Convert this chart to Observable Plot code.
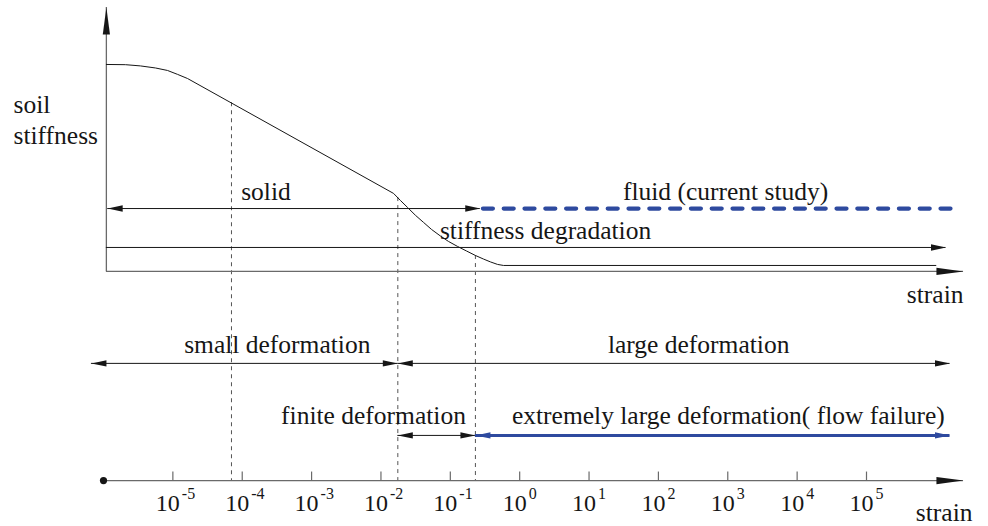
<!DOCTYPE html>
<html>
<head>
<meta charset="utf-8">
<script src="https://cdn.jsdelivr.net/npm/d3@7"></script>
<script src="https://cdn.jsdelivr.net/npm/@observablehq/plot@0.6"></script>
<style>
  html, body { margin: 0; padding: 0; background: #fff; }
  #chart svg { display: block; }
  #chart svg text { font-family: "Liberation Serif", Tinos, "Times New Roman", Times, "DejaVu Serif", serif !important; }
</style>
</head>
<body>
<div id="chart"></div>
<script>
// Stiffness degradation curve: strain vs. normalised soil stiffness
const curveStrain = [
  1.1e-6, 2.07e-6, 3.41e-6, 5.62e-6, 8.37e-6, 1.17e-5, 1.63e-5,
  0.0152, 0.0191, 0.0242, 0.0315, 0.0411, 0.0536, 0.0722, 0.0942, 0.127,
  0.171, 0.231, 0.301, 0.38, 0.48, 0.585, 1e6
];
const curveStiffness = [
  1.0, 0.999, 0.993, 0.983, 0.971, 0.952, 0.932,
  0.377, 0.343, 0.309, 0.271, 0.237, 0.203, 0.171, 0.145, 0.121,
  0.099, 0.077, 0.060, 0.046, 0.034, 0.029, 0.029
];

// Regime boundaries (dashed verticals) and the stiffness where they meet the curve
const boundaryStrain    = [7e-5, 0.0175, 0.23];
const boundaryStiffness = [0.815, 0.357, 0.077];

// Bottom strain axis ticks: 10^-5 ... 10^5
const tickExponents = [-5, -4, -3, -2, -1, 0, 1, 2, 3, 4, 5];
const tickLabels    = ["-5", "-4", "-3", "-2", "-1", "0", "1", "2", "3", "4", "5"];

// Material phase ranges
const phaseNames   = ["solid", "fluid (current study)"];
const phaseFrom    = [1.15e-6, 0.30];
const phaseTo      = [0.27, 2.1e6];
const phaseLabelAt = [2.2e-4, 930];

// Stiffness degradation range
const degradationName    = "stiffness degradation";
const degradationFrom    = 1.1e-6;
const degradationTo      = 1.4e6;
const degradationLabelAt = 2.36;

// Deformation ranges
const deformationNames   = ["small deformation", "large deformation", "finite deformation", "extremely large deformation( flow failure)"];
const deformationFrom    = [6.7e-7, 0.0175, 0.0175, 0.23];
const deformationTo      = [0.0175, 1.6e6, 0.23, 1.6e6];
const deformationLabelAt = [3.2e-4, 380, 7.8e-3, 1020];
const deformationRow     = [0, 0, 1, 1];

// Axis extents (strain)
const bottomOrigin = 1e-6;
const topOrigin = 1.1e-6;
const axisEnd = 2.5e6;

// Vertical layout, in stiffness units
const level = {
  yTip: 1.275, yLabel: 0.618,
  phase: 0.304, phaseText: 0.345,
  degradation: 0.116, degradationText: 0.159,
  strainTop: -0.150,
  rows: [-0.444, -0.792], rowText: [-0.396, -0.739],
  axis: -1.010, tickText: -1.155, expText: -1.097, strainBottom: -1.205
};

const ink = "#161616", axisInk = "#6a6a6a", blue = "#2e4a9f";
const serif = "Liberation Serif, Tinos, Times New Roman, Times, DejaVu Serif, serif";
const font = {fontFamily: serif, fontSize: 25.5, fill: ink, lineAnchor: "bottom"};

// Filled triangular arrowheads with the tip at the anchor point
function head(dir, len, half) {
  return {
    draw(ctx) {
      const p = dir === "right" ? [[0, 0], [-len, -half], [-len, half]]
              : dir === "left"  ? [[0, 0], [len, -half], [len, half]]
              : [[0, 0], [-half, len], [half, len]];
      ctx.moveTo(p[0][0], p[0][1]);
      ctx.lineTo(p[1][0], p[1][1]);
      ctx.lineTo(p[2][0], p[2][1]);
      ctx.closePath();
    }
  };
}
// Small inward tick on the strain axis
const tickSymbol = {draw(ctx) { ctx.moveTo(0, 0); ctx.lineTo(0, -9); }};

const curve = curveStrain.map((s, i) => ({s, k: curveStiffness[i]}));
const bounds = boundaryStrain.map((s, i) => ({s, k: boundaryStiffness[i]}));
const phases = phaseNames.map((name, i) => ({name, from: phaseFrom[i], to: phaseTo[i], at: phaseLabelAt[i]}));
const deform = deformationNames.map((name, i) => ({
  name, from: deformationFrom[i], to: deformationTo[i], at: deformationLabelAt[i],
  y: level.rows[deformationRow[i]], ty: level.rowText[deformationRow[i]]
}));
const blackDeform = deform.filter((d, i) => i < 3);
const blueDeform = deform.filter((d, i) => i === 3);

const smallRight = head("right", 15, 3.2), smallLeft = head("left", 15, 3.2);
const bigRight = head("right", 27, 3.6), bigUp = head("up", 27, 3.6);

const chart = Plot.plot({
  width: 988,
  height: 526,
  margin: 0,
  x: {type: "log", domain: [1e-6, 1e5], range: [103, 866], axis: null},
  y: {domain: [-1.232, 1.309], range: [526, 0], axis: null},
  style: {background: "white"},
  marks: [
    // regime boundaries
    Plot.ruleX(bounds, {x: "s", y1: "k", y2: () => level.axis, stroke: "#555", strokeWidth: 1, strokeDasharray: "4,4"}),

    // stiffness–strain axes
    Plot.ruleX([topOrigin], {x: d => d, y1: () => 0, y2: () => level.yTip, stroke: axisInk, strokeWidth: 1.3}),
    Plot.ruleY([0], {y: d => d, x1: () => topOrigin, x2: () => axisEnd, stroke: axisInk, strokeWidth: 1.3}),
    Plot.dot([topOrigin], {x: d => d, y: () => level.yTip, symbol: bigUp, r: 1, fill: ink}),
    Plot.dot([axisEnd], {x: d => d, y: () => 0, symbol: bigRight, r: 1, fill: ink}),

    // stiffness curve
    Plot.line(curve, {x: "s", y: "k", curve: "linear", stroke: ink, strokeWidth: 1}),

    // solid / fluid
    Plot.ruleY(phases.slice(0, 1), {y: () => level.phase, x1: "from", x2: "to", stroke: ink, strokeWidth: 1}),
    Plot.dot(phases.slice(0, 1), {x: "from", y: () => level.phase, symbol: smallLeft, r: 1, fill: ink}),
    Plot.dot(phases.slice(0, 1), {x: "to", y: () => level.phase, symbol: smallRight, r: 1, fill: ink}),
    Plot.ruleY(phases.slice(1), {y: () => level.phase, x1: "from", x2: "to", stroke: blue, strokeWidth: 4.2, strokeDasharray: "10,10.8", strokeLinecap: "round"}),
    Plot.text(phases, {x: "at", y: () => level.phaseText, text: "name", ...font}),

    // stiffness degradation
    Plot.ruleY([degradationFrom], {y: () => level.degradation, x1: d => d, x2: () => degradationTo, stroke: ink, strokeWidth: 1}),
    Plot.dot([degradationTo], {x: d => d, y: () => level.degradation, symbol: smallRight, r: 1, fill: ink}),
    Plot.text([degradationLabelAt], {x: d => d, y: () => level.degradationText, text: () => degradationName, ...font}),

    // deformation ranges
    Plot.ruleY(blackDeform, {y: "y", x1: "from", x2: "to", stroke: ink, strokeWidth: 1}),
    Plot.dot(blackDeform, {x: "from", y: "y", symbol: smallLeft, r: 1, fill: ink}),
    Plot.dot(blackDeform, {x: "to", y: "y", symbol: smallRight, r: 1, fill: ink}),
    Plot.ruleY(blueDeform, {y: "y", x1: "from", x2: "to", stroke: blue, strokeWidth: 3}),
    Plot.dot(blueDeform, {x: "from", y: "y", symbol: smallLeft, r: 1, fill: blue}),
    Plot.dot(blueDeform, {x: "to", y: "y", symbol: smallRight, r: 1, fill: blue}),
    Plot.text(deform, {x: "at", y: "ty", text: "name", ...font}),

    // bottom strain axis
    Plot.ruleY([bottomOrigin], {y: () => level.axis, x1: d => d, x2: () => axisEnd, stroke: axisInk, strokeWidth: 1.3}),
    Plot.dot([bottomOrigin], {x: d => d, y: () => level.axis, r: 3.6, fill: ink}),
    Plot.dot([axisEnd], {x: d => d, y: () => level.axis, symbol: bigRight, r: 1, fill: ink}),
    Plot.dot(tickExponents, {x: e => 10 ** e, y: () => level.axis, symbol: tickSymbol, r: 1, fill: "none", stroke: axisInk, strokeWidth: 1.2}),
    Plot.text(tickExponents, {x: e => 10 ** e, y: () => level.tickText, text: () => "10", textAnchor: "end", dx: 7, ...font, fontSize: 24}),
    Plot.text(tickExponents, {x: e => 10 ** e, y: () => level.expText, text: (e, i) => tickLabels[i], textAnchor: "start", dx: 9, ...font, fontSize: 16}),

    // axis titles
    Plot.text([0], {frameAnchor: "left", y: () => level.yLabel, text: () => "soil\nstiffness", textAnchor: "start", dx: 13, lineHeight: 1.18, ...font}),
    Plot.text([axisEnd], {x: d => d, y: () => level.strainTop, text: () => "strain", textAnchor: "end", ...font}),
    Plot.text([axisEnd], {x: d => d, y: () => level.strainBottom, text: () => "strain", textAnchor: "end", dx: 9, ...font})
  ]
});

document.getElementById("chart").appendChild(chart);
</script>
</body>
</html>
